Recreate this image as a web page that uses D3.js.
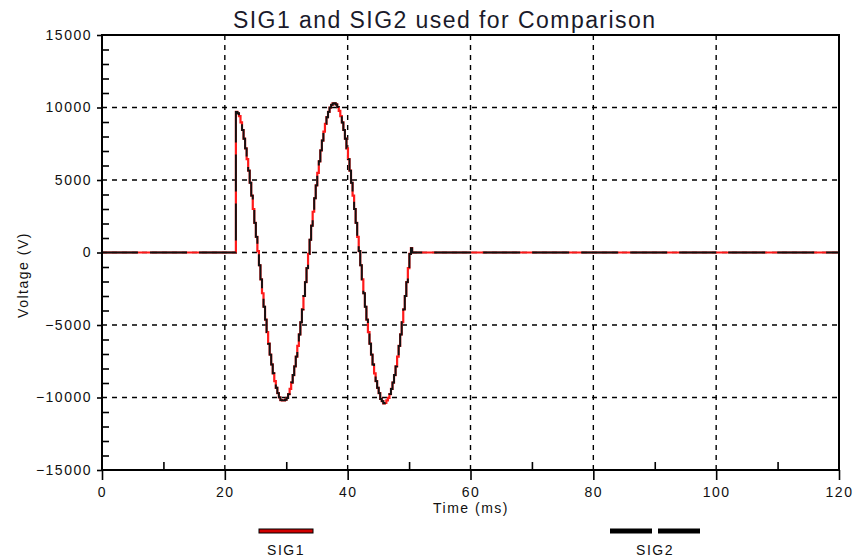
<!DOCTYPE html>
<html><head><meta charset="utf-8">
<script src="https://cdn.jsdelivr.net/npm/d3@7"></script>
<style>
html,body{margin:0;padding:0;background:#fff;}
svg{display:block;font-family:"Liberation Sans",Arial,sans-serif;}
</style></head><body>
<svg id="chart" width="854" height="558"></svg>
<script>
// Sample times (ms)
const timeMs = [0,
  21.8,22.05,22.3,22.55,22.8,23.05,23.3,23.55,23.8,24.05,
  24.3,24.55,24.8,25.05,25.3,25.55,25.8,26.05,26.3,26.55,
  26.8,27.05,27.3,27.55,27.8,28.05,28.3,28.55,28.8,29.05,
  29.3,29.55,29.8,30.05,30.3,30.55,30.8,31.05,31.3,31.55,
  31.8,32.05,32.3,32.55,32.8,33.05,33.3,33.55,33.8,34.05,
  34.3,34.55,34.8,35.05,35.3,35.55,35.8,36.05,36.3,36.55,
  36.8,37.05,37.3,37.55,37.8,38.05,38.3,38.55,38.8,39.05,
  39.3,39.55,39.8,40.05,40.3,40.55,40.8,41.05,41.3,41.55,
  41.8,42.05,42.3,42.55,42.8,43.05,43.3,43.55,43.8,44.05,
  44.3,44.55,44.8,45.05,45.3,45.55,45.8,46.05,46.3,46.55,
  46.8,47.05,47.3,47.55,47.8,48.05,48.3,48.55,48.8,49.05,
  49.3,49.55,49.8,50.05,50.3,
  50.5,120];
// SIG1 voltage (V)
const sig1 = [0,
  9700,9600,9410,8970,8450,7850,7180,6440,5650,4810,
  3920,3000,2040,1080,100,-880,-1850,-2810,-3740,-4630,
  -5490,-6290,-7040,-7720,-8330,-8870,-9330,-9700,-9990,-10180,
  -10200,-10200,-10150,-10030,-9770,-9410,-8970,-8450,-7850,-7180,
  -6440,-5650,-4810,-3920,-3000,-2040,-1080,-100,880,1850,
  2810,3740,4630,5490,6290,7040,7720,8330,8870,9330,
  9700,9990,10180,10280,10290,10210,10030,9770,9410,8970,
  8450,7850,7180,6440,5650,4810,3920,3000,2040,1080,
  100,-880,-1850,-2810,-3740,-4630,-5490,-6290,-7040,-7720,
  -8330,-8870,-9330,-9700,-10100,-10250,-10400,-10380,-10200,-10030,
  -9770,-9410,-8970,-8450,-7850,-7180,-6440,-5650,-4810,-3920,
  -3000,-2040,-1080,-100,300,
  0,0];
// SIG2 voltage (V), overlays SIG1
const sig2 = [0,
  9700,9600,9410,8970,8450,7850,7180,6440,5650,4810,
  3920,3000,2040,1080,100,-880,-1850,-2810,-3740,-4630,
  -5490,-6290,-7040,-7720,-8330,-8870,-9330,-9700,-9990,-10180,
  -10200,-10200,-10150,-10030,-9770,-9410,-8970,-8450,-7850,-7180,
  -6440,-5650,-4810,-3920,-3000,-2040,-1080,-100,880,1850,
  2810,3740,4630,5490,6290,7040,7720,8330,8870,9330,
  9700,9990,10180,10280,10290,10210,10030,9770,9410,8970,
  8450,7850,7180,6440,5650,4810,3920,3000,2040,1080,
  100,-880,-1850,-2810,-3740,-4630,-5490,-6290,-7040,-7720,
  -8330,-8870,-9330,-9700,-10100,-10250,-10400,-10380,-10200,-10030,
  -9770,-9410,-8970,-8450,-7850,-7180,-6440,-5650,-4810,-3920,
  -3000,-2040,-1080,-100,300,
  0,0];

const xTicks = [0,20,40,60,80,100,120];
const xMinorTicks = [10,30,50,70,90,110];
const yTicks = [-15000,-10000,-5000,0,5000,10000,15000];
const yMinorTicks = [-14000,-13000,-12000,-11000,-9000,-8000,-7000,-6000,
  -4000,-3000,-2000,-1000,1000,2000,3000,4000,6000,7000,8000,9000,
  11000,12000,13000,14000];
const seriesNames = ["SIG1","SIG2"];

const svg = d3.select("#chart");
const L = 102, R = 839, T = 35, B = 470;
const x = d3.scaleLinear().domain([0,120]).range([L,R]);
const y = d3.scaleLinear().domain([-15000,15000]).range([B,T]);

// grid
const grid = svg.append("g").attr("stroke","#000").attr("stroke-width",1.4)
  .attr("stroke-dasharray","5,5").attr("fill","none");
xTicks.filter(v => v > 0 && v < 120).forEach(v => {
  grid.append("line").attr("x1",x(v)).attr("x2",x(v)).attr("y1",T).attr("y2",B);
});
yTicks.filter(v => v > -15000 && v < 15000).forEach(v => {
  grid.append("line").attr("x1",L).attr("x2",R).attr("y1",y(v)).attr("y2",y(v));
});

// lines
const pts1 = timeMs.map((t,i) => [t, sig1[i]]);
const pts2 = timeMs.map((t,i) => [t, sig2[i]]);
const line = d3.line().x(d => x(d[0])).y(d => y(d[1])).curve(d3.curveStepAfter);
svg.append("path").attr("d", line(pts1)).attr("fill","none")
  .attr("stroke","#ff1a1a").attr("stroke-width",2.2);
svg.append("path").attr("d", line(pts2)).attr("fill","none")
  .attr("stroke","#111").attr("stroke-width",1.9)
  .attr("stroke-dasharray","37,12").attr("stroke-dashoffset",1);

// axes
function styleAxis(g){
  g.select(".domain").remove();
  g.selectAll(".tick line").attr("stroke","#000").attr("stroke-width",1.6);
  g.selectAll(".tick text").attr("fill","#111").style("font-size","14px")
    .style("letter-spacing","1.5px").style("font-family",'"Liberation Sans",Arial,sans-serif');
}
svg.append("g").attr("transform",`translate(${L},0)`)
  .call(d3.axisLeft(y).tickValues(yTicks).tickSize(5).tickPadding(5).tickFormat(d3.format("d")))
  .call(styleAxis);
svg.append("g").attr("transform",`translate(${L},0)`)
  .call(d3.axisLeft(y).tickValues(yMinorTicks).tickSize(-7).tickFormat(""))
  .call(styleAxis);
svg.append("g").attr("transform",`translate(0,${B})`)
  .call(d3.axisBottom(x).tickValues(xTicks).tickSize(10).tickPadding(7).tickFormat(d3.format("d")))
  .call(styleAxis);
svg.append("g").attr("transform",`translate(0,${B})`)
  .call(d3.axisBottom(x).tickValues(xMinorTicks).tickSize(-8).tickFormat(""))
  .call(styleAxis);

// frame
svg.append("rect").attr("x",L).attr("y",T).attr("width",R-L).attr("height",B-T)
  .attr("fill","none").attr("stroke","#000").attr("stroke-width",2);

// title & labels
svg.append("text").attr("x",444).attr("y",28).attr("text-anchor","middle")
  .attr("textLength",422).attr("lengthAdjust","spacing")
  .style("font-size","23px").attr("fill","#1a1a2a").text("SIG1 and SIG2 used for Comparison");
svg.append("text").attr("x",471).attr("y",513).attr("text-anchor","middle")
  .style("font-size","14px").style("letter-spacing","1.5px").attr("fill","#111").text("Time (ms)");
svg.append("text").attr("transform","translate(28,275) rotate(-90)").attr("text-anchor","middle")
  .style("font-size","14px").style("letter-spacing","1.5px").attr("fill","#111").text("Voltage (V)");

// legend
svg.append("rect").attr("x",259).attr("y",529).attr("width",54).attr("height",4)
  .attr("fill","#d00000").attr("stroke","#000").attr("stroke-width",1);
svg.append("line").attr("x1",610).attr("x2",700).attr("y1",531).attr("y2",531)
  .attr("stroke","#000").attr("stroke-width",5).attr("stroke-dasharray","42,6");
svg.append("text").attr("x",286).attr("y",555).attr("text-anchor","middle")
  .style("font-size","14px").style("letter-spacing","1.5px").attr("fill","#111").text(seriesNames[0]);
svg.append("text").attr("x",655).attr("y",555).attr("text-anchor","middle")
  .style("font-size","14px").style("letter-spacing","1.5px").attr("fill","#111").text(seriesNames[1]);
</script>
</body></html>
